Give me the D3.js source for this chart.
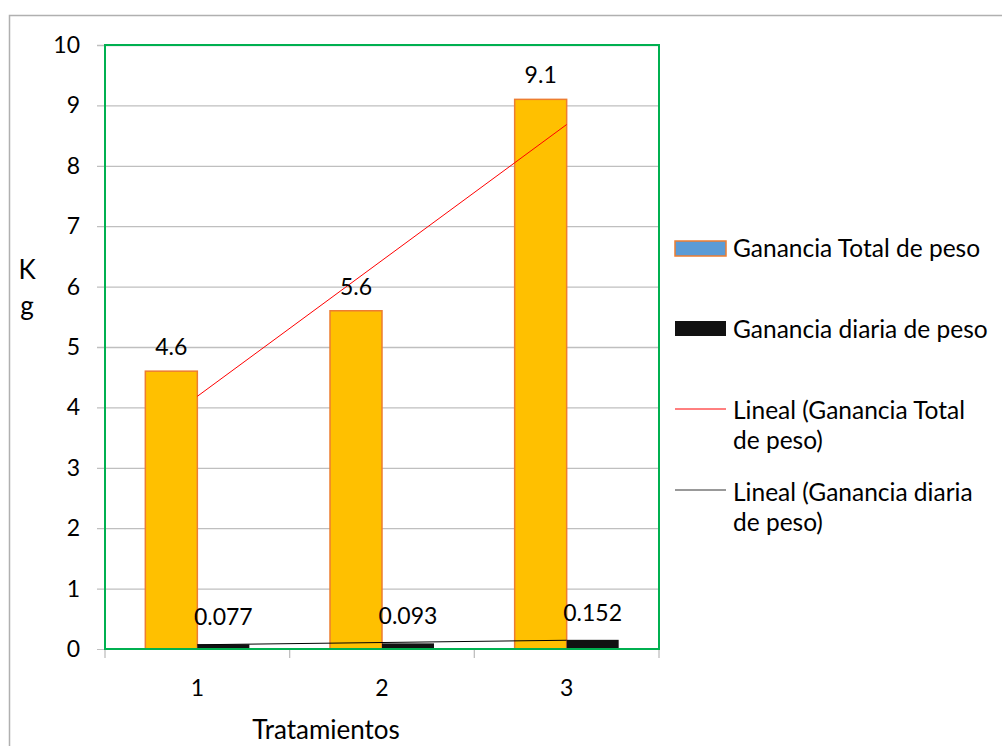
<!DOCTYPE html>
<html><head><meta charset="utf-8">
<script src="https://cdn.jsdelivr.net/npm/d3@7"></script>
<style>body{margin:0;background:#fff}svg{display:block}text{font-family:Lato,"Open Sans",sans-serif;fill:#000}</style>
</head><body><svg id="c" width="1003" height="746"></svg>
<script>
const categories = ["1","2","3"];
const totalGain = [4.6, 5.6, 9.1];
const dailyGain = [0.077, 0.093, 0.152];
const totalLabels = ["4.6","5.6","9.1"];
const dailyLabels = ["0.077","0.093","0.152"];
const yTicks = [0,1,2,3,4,5,6,7,8,9,10];
const legendItems = ["Ganancia Total de peso","Ganancia diaria de peso","Lineal (Ganancia Total|de peso)","Lineal (Ganancia diaria|de peso)"];

const svg = d3.select("#c");
const L=105, R=659, T=45, B=649;
const x = d3.scaleBand().domain(categories).range([L,R]).paddingInner(0).paddingOuter(0);
const y = d3.scaleLinear().domain([0,10]).range([B,T]);
const barW = 52;
const fsTick = 23, fsLab = 23, fsLeg = 24.5, fsTitle = 26;

// outer border
svg.append("path").attr("d",`M9.5,746 V15.5 H1002`).attr("fill","none").attr("stroke","#b0b0b0").attr("stroke-width",1.5);

// gridlines
svg.append("g").selectAll("line").data(yTicks.filter(d=>d>0)).join("line")
  .attr("x1",L-8).attr("x2",R).attr("y1",d=>y(d)+0.5).attr("y2",d=>y(d)+0.5)
  .attr("stroke","#bfbfbf").attr("stroke-width",1.3);
svg.append("line").attr("x1",L-8).attr("x2",L).attr("y1",B+0.5).attr("y2",B+0.5).attr("stroke","#bfbfbf");
svg.append("g").selectAll("text").data(yTicks).join("text")
  .attr("x",80).attr("y",d=>y(d)).attr("dy","0.35em").attr("text-anchor","end")
  .attr("font-size",fsTick).text(d=>d);

// x ticks
const xt = [L, ...categories.map(c=>x(c)+x.bandwidth())];
svg.append("g").selectAll("line").data(xt).join("line")
  .attr("x1",d=>d).attr("x2",d=>d).attr("y1",B).attr("y2",B+9).attr("stroke","#bfbfbf").attr("stroke-width",1.3);
svg.append("g").selectAll("text").data(categories).join("text")
  .attr("x",d=>x(d)+x.bandwidth()/2).attr("y",688).attr("dy","0.35em").attr("text-anchor","middle")
  .attr("font-size",fsTick).text(d=>d);

// bars
const cx = c => x(c)+x.bandwidth()/2;
svg.append("g").selectAll("rect").data(categories).join("rect")
  .attr("x",d=>cx(d)-barW).attr("y",(d,i)=>y(totalGain[i])).attr("width",barW).attr("height",(d,i)=>B-y(totalGain[i]))
  .attr("fill","#ffc000").attr("stroke","#ed7d31").attr("stroke-width",1.5);
svg.append("g").selectAll("rect").data(categories).join("rect")
  .attr("x",d=>cx(d)).attr("y",(d,i)=>y(dailyGain[i])).attr("width",barW).attr("height",(d,i)=>B-y(dailyGain[i]))
  .attr("fill","#111");

// trend lines (linear regression)
function fit(vals){
  const xs=vals.map((v,i)=>i+1);
  const mx=d3.mean(xs), my=d3.mean(vals);
  const s=d3.sum(xs.map((xx,i)=>(xx-mx)*(vals[i]-my)))/d3.sum(xs.map(xx=>(xx-mx)**2));
  return xs.map(xx=>my+s*(xx-mx));
}
const line = d3.line().x((d,i)=>cx(categories[i])).y(d=>y(d));
svg.append("path").attr("d",line(fit(totalGain))).attr("fill","none").attr("stroke","#ff0000").attr("stroke-width",1);
svg.append("path").attr("d",line(fit(dailyGain))).attr("fill","none").attr("stroke","#000").attr("stroke-width",1);

// plot area border
svg.append("rect").attr("x",L).attr("y",T).attr("width",R-L).attr("height",B-T)
  .attr("fill","none").attr("stroke","#00b050").attr("stroke-width",2);

// data labels
svg.append("g").selectAll("text").data(categories).join("text")
  .attr("x",d=>cx(d)-barW/2).attr("y",(d,i)=>y(totalGain[i])-24).attr("dy","0.35em").attr("text-anchor","middle")
  .attr("font-size",fsLab).text((d,i)=>totalLabels[i]);
svg.append("g").selectAll("text").data(categories).join("text")
  .attr("x",d=>cx(d)+barW/2).attr("y",(d,i)=>y(dailyGain[i])-27).attr("dy","0.35em").attr("text-anchor","middle")
  .attr("font-size",fsLab).text((d,i)=>dailyLabels[i]);

// axis titles
svg.append("text").attr("x",27).attr("y",270).attr("dy","0.35em").attr("text-anchor","middle").attr("font-size",fsTitle).text("K");
svg.append("text").attr("x",27).attr("y",306).attr("dy","0.35em").attr("text-anchor","middle").attr("font-size",fsTitle).text("g");
svg.append("text").attr("x",326).attr("y",730).attr("dy","0.35em").attr("text-anchor","middle").attr("font-size",fsTitle).text("Tratamientos");

// legend
const lg = svg.append("g");
lg.append("rect").attr("x",675).attr("y",241).attr("width",51).attr("height",15).attr("fill","#5b9bd5").attr("stroke","#ed7d31").attr("stroke-width",1.5);
lg.append("rect").attr("x",675).attr("y",321).attr("width",51).attr("height",15).attr("fill","#111");
lg.append("line").attr("x1",675).attr("x2",726).attr("y1",409).attr("y2",409).attr("stroke","#ff0000");
lg.append("line").attr("x1",675).attr("x2",726).attr("y1",490).attr("y2",490).attr("stroke","#777").attr("stroke-width",1.3);
const ly = [[248],[329],[410,440],[492,522]];
legendItems.forEach((t,i)=>{
  t.split("|").forEach((s,j)=>{
    lg.append("text").attr("x",733).attr("y",ly[i][j]).attr("dy","0.35em").attr("font-size",fsLeg).text(s);
  });
});
</script></body></html>
